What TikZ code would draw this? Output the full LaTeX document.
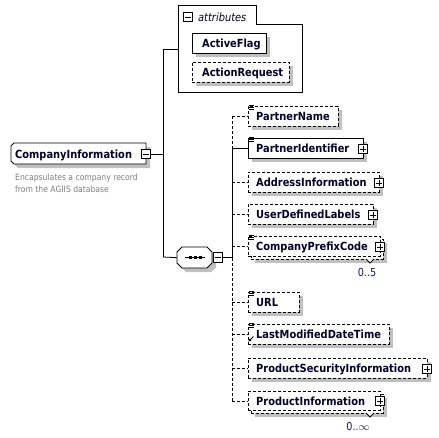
\documentclass[tikz,border=0pt]{standalone}
\usepackage{fontspec}
\setmainfont[FakeStretch=0.88]{DejaVu Sans}
\usetikzlibrary{arrows.meta}
\definecolor{shade}{RGB}{192,192,192}
\definecolor{ink}{RGB}{0,0,40}
\definecolor{desc}{RGB}{128,128,128}
\definecolor{mult}{RGB}{20,30,90}
\tikzset{
  lw/.style={line width=0.8pt},
  box/.style={draw, lw, fill=white, inner sep=0, anchor=north west, minimum height=20},
  opt/.style={dash pattern=on 3pt off 2pt},
  shd/.style={preaction={fill=shade, draw=none, transform canvas={xshift=4pt, yshift=-4pt}}},
  elname/.style={font=\bfseries\fontsize{11.2}{13}\selectfont, text=ink, anchor=base west, inner sep=0},
  multtext/.style={font=\fontsize{11}{13}\selectfont, text=mult, inner sep=0},
  pmbase/.style={draw, lw, fill=white, minimum size=9.5pt, inner sep=0},
  minusbox/.style={pmbase, path picture={\draw[lw] ([xshift=2pt]path picture bounding box.west) -- ([xshift=-2pt]path picture bounding box.east);}},
  plusbox/.style={pmbase, path picture={\draw[lw] ([xshift=2pt]path picture bounding box.west) -- ([xshift=-2pt]path picture bounding box.east); \draw[lw] ([yshift=-2pt]path picture bounding box.north) -- ([yshift=2pt]path picture bounding box.south);}},
  conn/.style={lw},
  anchorbox/.style={inner sep=0, anchor=north west},
}
\newcommand{\menuicon}[2]{%
  \draw[line width=0.7pt] (#1+1,#2-0.5) -- ++(5,0);
  \draw[line width=0.7pt] (#1+1,#2+1.5) -- ++(5,0);
  \draw[line width=0.7pt] (#1+1,#2+3.5) -- ++(5,0);}
\begin{document}
\begin{tikzpicture}[x=1pt,y=-1pt]
\useasboundingbox[fill=white] (0,0) rectangle (439,437);

% ---------- root element ----------
\draw[lw, fill=white, shd] (14,143) -- (146,143) -- (146,164) -- (14,164) -- (11,161) -- (11,146) -- cycle;
\node[anchorbox, minimum width=135, minimum height=21] (ci) at (11,143) {};
\node[elname] (ci-t) at (15,158) {CompanyInformation};
\node[minusbox] (ci-pm) at (146,154) {};
\node[font=\fontsize{8.7}{12}\selectfont, text=desc, anchor=base west, inner sep=0] (ci-d1) at (15,180) {Encapsulates a company record};
\node[font=\fontsize{8.7}{12}\selectfont, text=desc, anchor=base west, inner sep=0] (ci-d2) at (15,192) {from the AGIIS database};

\coordinate (hubA) at (163,154);
\coordinate (hubAtop) at (163,49);
\coordinate (hubAbot) at (163,257);
\draw[conn] (ci-pm.east) -- (hubA);
\draw[conn] (hubAtop) -- (hubAbot);

% ---------- attributes ----------
\draw[lw] (178,5) -- (256,5) -- (256,24) -- (302,24) -- (302,92) -- (178,92) -- cycle;
\coordinate (attr) at (178,49);
\draw[conn] (hubAtop) -- (attr);
\node[minusbox] (attr-pm) at (188,17) {};
\node[font=\itshape\fontsize{11.2}{13}\selectfont, text=ink, anchor=base west, inner sep=0] (attr-t) at (198,21) {attributes};

\node[box, shd, minimum width=74] (af) at (192,33) {};
\node[elname] (af-t) at (202,47) {ActiveFlag};
\node[box, shd, opt, minimum width=97] (ar) at (192,62) {};
\node[elname] (ar-t) at (202,76) {ActionRequest};

% ---------- sequence ----------
\draw[lw, fill=white, shd] (182,247) -- (207,247) -- (212,252) -- (212,263) -- (207,268) -- (182,268) -- (177,263) -- (177,252) -- cycle;
\node[anchorbox, minimum width=35, minimum height=21] (seq) at (177,247) {};
\draw[conn] (hubAbot) -- (seq.west);
\draw[lw] (185,257.5) -- (205,257.5);
\fill (188.5,256) rectangle ++(3,3);
\fill (193.5,256) rectangle ++(3,3);
\fill (198.5,256) rectangle ++(3,3);
\node[minusbox] (seq-pm) at (218,257.5) {};
\coordinate (hubB) at (232,257.5);
\coordinate (spinetop) at (232,116);
\draw[conn] (seq-pm.east) -- (hubB);

% ---------- children ----------
% PartnerName
\node[box, shd, opt, minimum width=90] (pn) at (248,106) {};
\menuicon{248}{106}
\node[elname] (pn-t) at (256,120) {PartnerName};
% PartnerIdentifier
\node[box, shd, minimum width=115] (pid) at (248,138) {};
\menuicon{248}{138}
\node[elname] (pid-t) at (256,152) {PartnerIdentifier};
\node[plusbox] (pid-pm) at (363,149) {};
% AddressInformation
\node[box, shd, opt, minimum width=131] (ai) at (248,172) {};
\node[elname] (ai-t) at (256,186) {AddressInformation};
\node[plusbox] (ai-pm) at (379,183) {};
% UserDefinedLabels
\node[box, shd, opt, minimum width=125] (udl) at (248,204) {};
\node[elname] (udl-t) at (256,218) {UserDefinedLabels};
\node[plusbox] (udl-pm) at (373,215) {};
% CompanyPrefixCode (multiple)
\node[box, shd, opt, minimum width=132] (cpc-b) at (251,239) {};
\node[box, opt, minimum width=132] (cpc) at (248,236) {};
\menuicon{248}{236}
\node[elname] (cpc-t) at (256,250) {CompanyPrefixCode};
\node[plusbox] (cpc-pm) at (380,247) {};
\draw[lw, fill=white] (366,259) -- (370,263) -- (374,259);
\node[multtext] (cpc-m) at (367,272) {0..5};
% URL
\node[box, shd, opt, minimum width=51] (url) at (248,292) {};
\menuicon{248}{292}
\node[elname] (url-t) at (256,306) {URL};
% LastModifiedDateTime
\node[box, shd, opt, minimum width=141] (lmd) at (248,324) {};
\menuicon{248}{324}
\draw[line width=0.8pt, -{Stealth[length=3pt,width=3pt]}] (253.5,336.5) -- (248.5,341.5);
\node[elname] (lmd-t) at (256,338) {LastModifiedDateTime};
% ProductSecurityInformation
\node[box, shd, opt, minimum width=179] (psi) at (248,358) {};
\node[elname] (psi-t) at (256,372) {ProductSecurityInformation};
\node[plusbox] (psi-pm) at (427,369) {};
% ProductInformation (multiple)
\node[box, shd, opt, minimum width=132, minimum height=19] (pinf-b) at (251,394) {};
\node[box, opt, minimum width=132, minimum height=19] (pinf) at (248,391) {};
\node[elname] (pinf-t) at (256,405) {ProductInformation};
\node[plusbox] (pinf-pm) at (380,401) {};
\draw[lw, fill=white] (366,413) -- (370,417) -- (374,413);
\node[multtext] (pinf-m) at (358,426) {0..\(\infty\)};

% ---------- spine and branches ----------
\draw[conn, opt] (spinetop) -- (pid.west -| spinetop);
\draw[conn] (pid.west -| spinetop) -- (hubB);
\draw[conn, opt] (hubB) -- (pinf.west -| spinetop);
\draw[conn, opt] (pn.west -| spinetop) -- (pn.west);
\draw[conn] (pid.west -| spinetop) -- (pid.west);
\draw[conn, opt] (ai.west -| spinetop) -- (ai.west);
\draw[conn, opt] (udl.west -| spinetop) -- (udl.west);
\draw[conn, opt] (cpc.west -| spinetop) -- (cpc.west);
\draw[conn, opt] (url.west -| spinetop) -- (url.west);
\draw[conn, opt] (lmd.west -| spinetop) -- (lmd.west);
\draw[conn, opt] (psi.west -| spinetop) -- (psi.west);
\draw[conn, opt] (pinf.west -| spinetop) -- (pinf.west);
\end{tikzpicture}
\end{document}
